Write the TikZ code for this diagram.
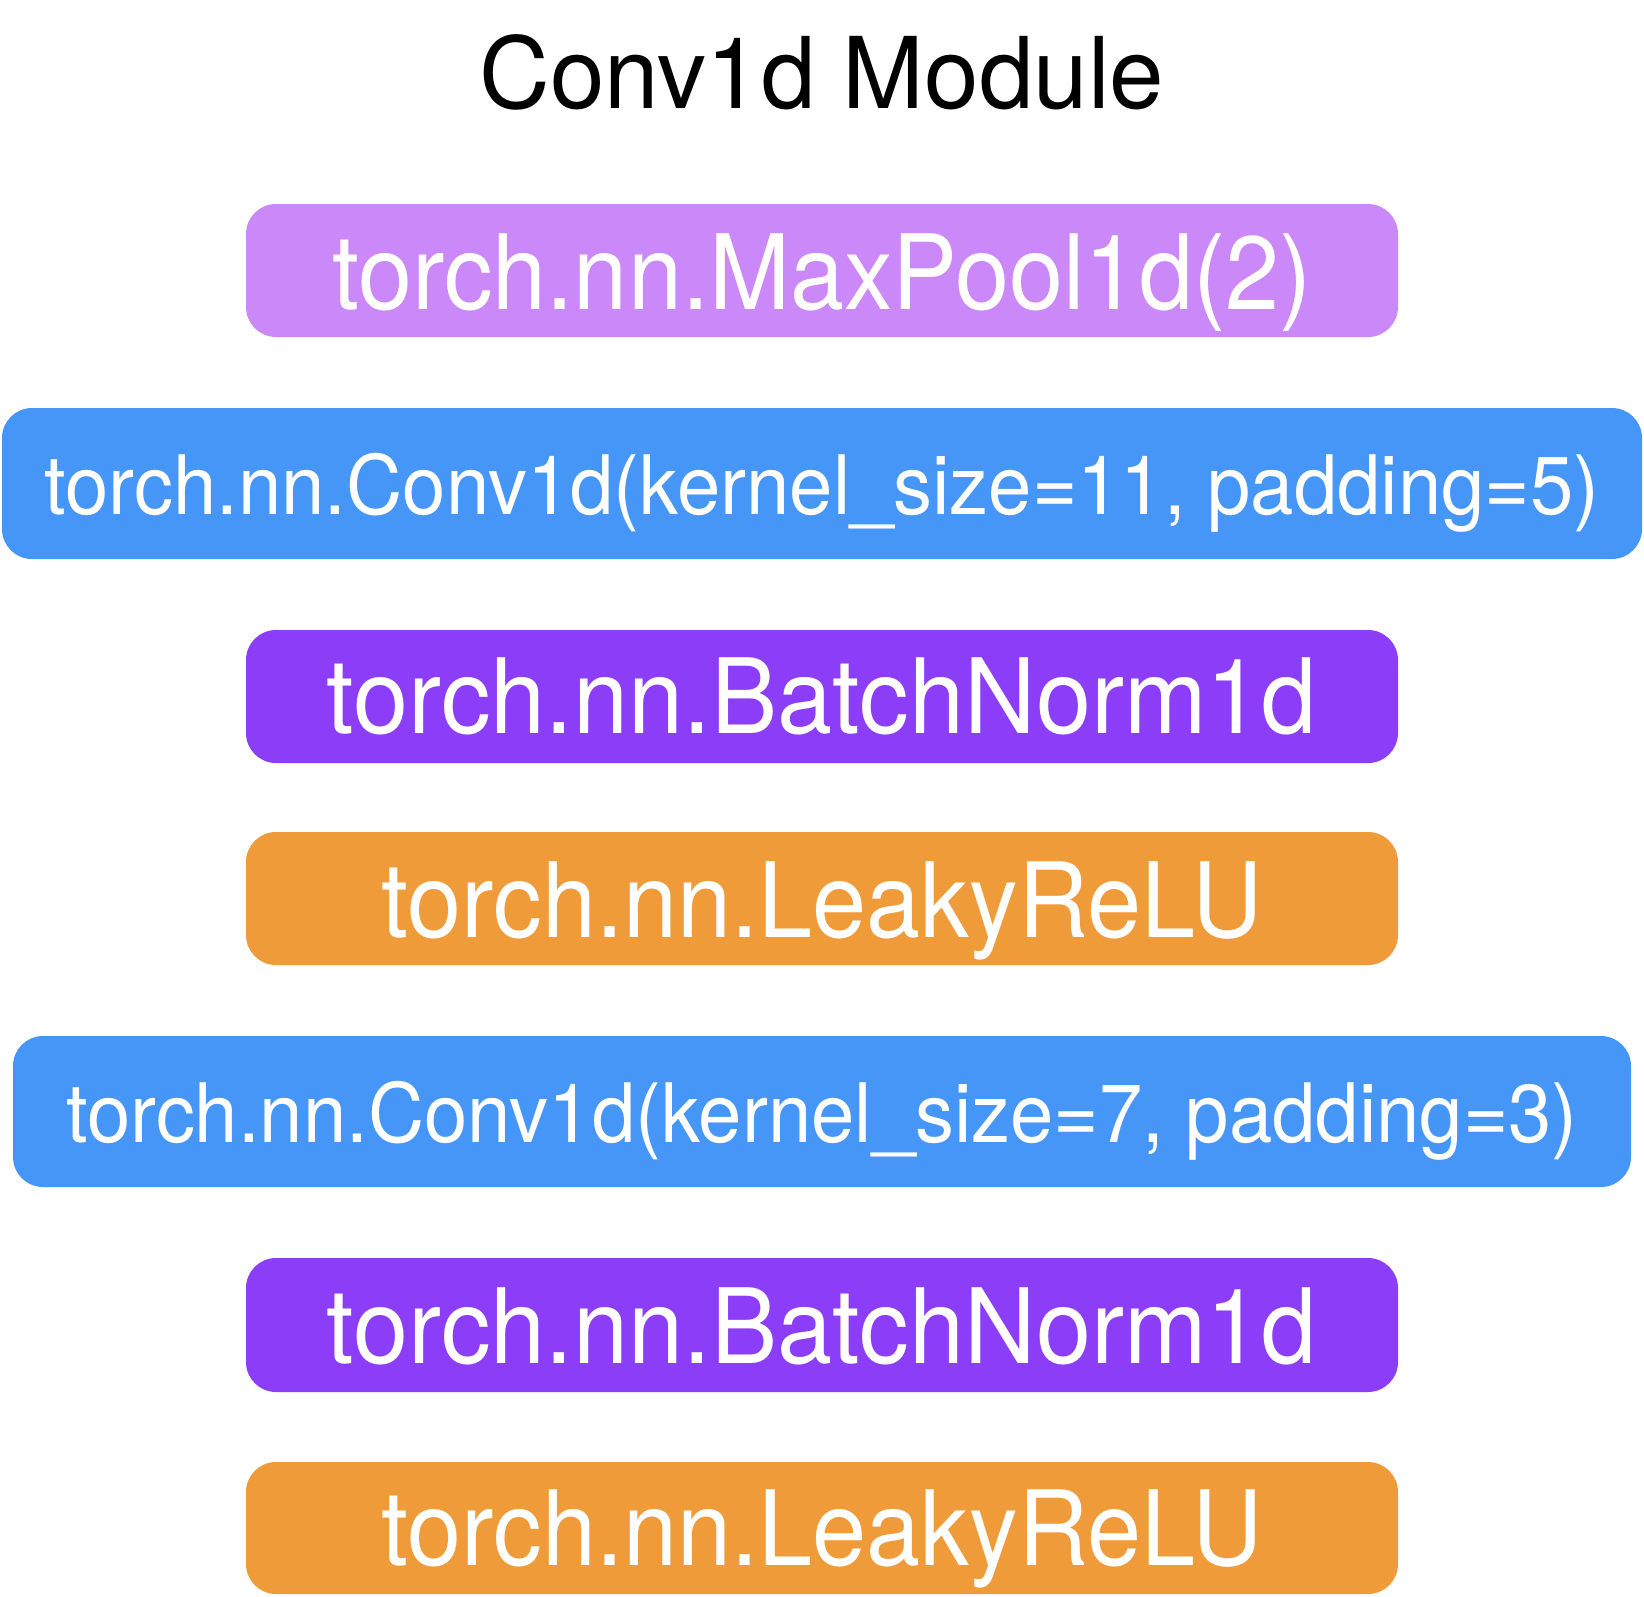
\documentclass[tikz,border=0pt]{standalone}
\usepackage{fontspec}
\setmainfont{TeX Gyre Heros}
\newfontfamily\labfont[FakeStretch=0.935]{TeX Gyre Heros}
\newfontfamily\bnfont[FakeStretch=0.953]{TeX Gyre Heros}
\newfontfamily\cvfont[FakeStretch=0.95]{TeX Gyre Heros}
\newfontfamily\ttlfont[FakeStretch=0.99]{TeX Gyre Heros}
\definecolor{lilac}{RGB}{203,136,248}
\definecolor{convblue}{RGB}{69,150,247}
\definecolor{violet}{RGB}{139,61,247}
\definecolor{orng}{RGB}{240,155,57}
\tikzset{
  layerbox/.style={rounded corners=30pt, inner sep=0pt, outer sep=0pt, anchor=base, text=white, align=center},
  bigtext/.style={font=\labfont\fontsize{104}{110}\selectfont},
  bntext/.style={font=\bnfont\fontsize{104}{110}\selectfont},
  convtext/.style={font=\cvfont\fontsize{82}{88}\selectfont},
}
\begin{document}
\begin{tikzpicture}[x=1pt,y=-1pt]
\useasboundingbox (0,0) rectangle (1644,1596);
\node[anchor=base, inner sep=0pt, font=\ttlfont\fontsize{99}{104}\selectfont] (title) at (822,108) {Conv1d Module};
\node[layerbox, bigtext, fill=lilac, minimum width=1152pt, text height=105pt, text depth=28pt] (mp) at (822,309) {torch.nn.MaxPool1d(2)};
\node[layerbox, convtext, fill=convblue, minimum width=1640pt, text height=106pt, text depth=45pt] (c1) at (822,514) {torch.nn.Conv1d(kernel\_size=11, padding=5)};
\node[layerbox, bntext, fill=violet, minimum width=1152pt, text height=103pt, text depth=30pt] (bn1) at (822,733) {torch.nn.BatchNorm1d};
\node[layerbox, bigtext, fill=orng, minimum width=1152pt, text height=105pt, text depth=28pt] (lr1) at (822,937) {torch.nn.LeakyReLU};
\node[layerbox, convtext, fill=convblue, minimum width=1618pt, text height=106pt, text depth=45pt] (c2) at (822,1142) {torch.nn.Conv1d(kernel\_size=7, padding=3)};
\node[layerbox, bntext, fill=violet, minimum width=1152pt, text height=105pt, text depth=29pt] (bn2) at (822,1363) {torch.nn.BatchNorm1d};
\node[layerbox, bigtext, fill=orng, minimum width=1152pt, text height=103pt, text depth=29pt] (lr2) at (822,1565) {torch.nn.LeakyReLU};
\end{tikzpicture}
\end{document}
